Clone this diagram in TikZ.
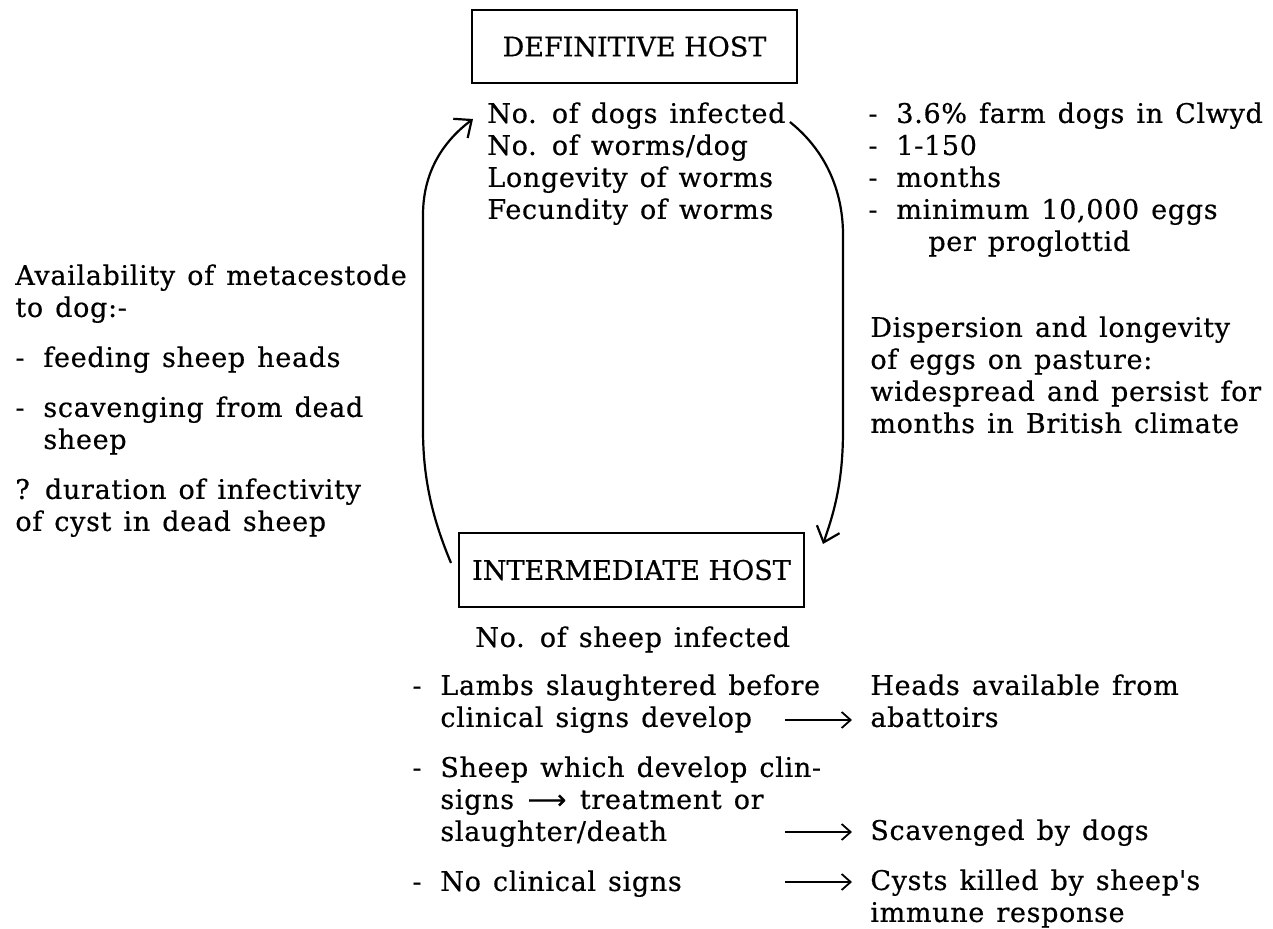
\documentclass[tikz,border=0pt]{standalone}
\usepackage{fontspec}
\setmainfont[LetterSpace=2.5,WordSpace=1.3,FakeBold=0.5]{DejaVu Serif}
\newfontfamily\titlefont[FakeBold=0.5]{DejaVu Serif}
\newfontfamily\arrowfont[FakeBold=0.5]{DejaVu Sans}
\usetikzlibrary{arrows.meta}
\newcommand{\dashgap}{-\hspace{0.7em}}

\begin{document}
\begin{tikzpicture}[x=0.5pt,y=-0.5pt,
  every node/.style={inner sep=0pt,font=\fontsize{13.5}{16}\selectfont},
  hostbox/.style={draw,line width=1pt,minimum height=36.5pt,font=\titlefont\fontsize{13.5}{16}\selectfont},
  cyclearrow/.style={line width=1.1pt,-{Straight Barb[length=7pt,width=12pt]}},
  outarrow/.style={line width=0.9pt,-{Straight Barb[length=4.5pt,width=8pt]},shorten >=9pt}]
\useasboundingbox (0,0) rectangle (1273,929);

\node[hostbox,minimum width=162.5pt](defhost) at (634.5,46.5){DEFINITIVE HOST};
\node[anchor=north west,align=left](defparams) at (487,102){No. of dogs infected\\No. of worms/dog\\Longevity of worms\\Fecundity of worms};
\node[anchor=north west,align=left](defvalues) at (868,102){\dashgap 3.6\% farm dogs in Clwyd\\\dashgap 1-150\\\dashgap months\\\dashgap minimum 10,000 eggs\\\hspace*{30pt}per proglottid};

\node[anchor=north west,align=left](avail) at (15,264){Availability of metacestode\\to dog:-\\[9pt]\dashgap feeding sheep heads\\[9pt]\dashgap scavenging from dead\\\phantom{\dashgap}sheep\\[9pt]? duration of infectivity\\of cyst in dead sheep};
\node[anchor=north west,align=left](dispersal) at (870,316){Dispersion and longevity\\of eggs on pasture:\\widespread and persist for\\months in British climate};

\node[hostbox,minimum width=172.5pt,minimum height=37pt](inthost) at (631.5,570){INTERMEDIATE HOST};
\node[anchor=north west](sheepinf) at (475,626){No. of sheep infected};

\node[anchor=north west,align=left](outcomes) at (412,674){\dashgap Lambs slaughtered before\\\phantom{\dashgap}clinical signs develop\\[9pt]\dashgap Sheep which develop clin-\\\phantom{\dashgap}signs\hspace{0.5em}{\arrowfont ⟶}\hspace{0.5em}treatment or\\\phantom{\dashgap}slaughter/death\\[9pt]\dashgap No clinical signs};
\node[anchor=north west,align=left](heads) at (870,674){Heads available from\\abattoirs};
\node[anchor=north west](scavenged) at (870,819){Scavenged by dogs};
\node[anchor=north west,align=left](cysts) at (870,869){Cysts killed by sheep\textquotesingle s\\immune response};

\coordinate (lambsout) at (785,720);
\coordinate (deathout) at (785,832);
\coordinate (noclinout) at (785,882);
\draw[outarrow](lambsout)--(lambsout-|heads.west);
\draw[outarrow](deathout)--(deathout-|scavenged.west);
\draw[outarrow](noclinout)--(noclinout-|cysts.west);

\draw[cyclearrow]([xshift=-3.5pt,yshift=3.5pt]inthost.west)..controls(433,520)and(423,480)..(423,430)--(423,215)..controls(423,170)and(445,140)..([xshift=-7pt,yshift=-8.5pt]defparams.north west);
\draw[cyclearrow]([xshift=2pt,yshift=-10pt]defparams.north east)..controls(825,150)and(843,190)..(843,235)--(843,430)..controls(843,480)and(835,510)..([xshift=9pt,yshift=-6pt]inthost.north east);
\end{tikzpicture}
\end{document}
